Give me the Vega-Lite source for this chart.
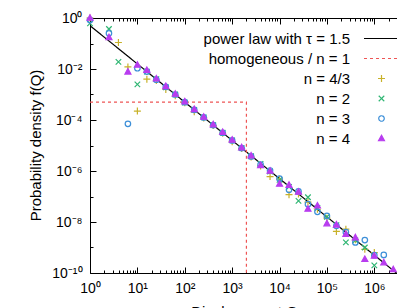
{
  "$schema": "https://vega.github.io/schema/vega-lite/v6.json",
  "width": 308,
  "height": 255,
  "autosize": "none",
  "padding": {"left": 90, "top": 18, "right": 0, "bottom": 35},
  "config": {
    "view": {"stroke": null},
    "font": "Liberation Sans",
    "axis": {"domainColor": "black", "tickColor": "black", "labelColor": "black", "titleColor": "black", "grid": false, "labelFont": "Liberation Sans", "titleFont": "Liberation Sans", "labelFontSize": 14, "titleFontSize": 15, "titleFontWeight": "normal", "domainWidth": 1, "tickWidth": 1}
  },
  "datasets": {
    "lines": [
      {"series": "power law with τ = 1.5", "Q": 1, "f": 0.5, "k": 1},
      {"series": "power law with τ = 1.5", "Q": 3162278, "f": 8.9e-11, "k": 2},
      {"series": "homogeneous / n = 1", "Q": 1, "f": 5e-4, "k": 1},
      {"series": "homogeneous / n = 1", "Q": 2000, "f": 5e-4, "k": 2},
      {"series": "homogeneous / n = 1", "Q": 2000, "f": 1e-10, "k": 3}
    ],
    "points": [
      {"series": "n = 4/3", "Q": 1, "f": 1},
      {"series": "n = 4/3", "Q": 3.981, "f": 0.1096},
      {"series": "n = 4/3", "Q": 6.31, "f": 0.01202},
      {"series": "n = 4/3", "Q": 10, "f": 2.239e-4},
      {"series": "n = 4/3", "Q": 15.85, "f": 3.981e-3},
      {"series": "n = 4/3", "Q": 25.12, "f": 3.548e-3},
      {"series": "n = 4/3", "Q": 39.81, "f": 1.585e-3},
      {"series": "n = 4/3", "Q": 63.1, "f": 8.913e-4},
      {"series": "n = 4/3", "Q": 100, "f": 4.786e-4},
      {"series": "n = 4/3", "Q": 158.5, "f": 2.089e-4},
      {"series": "n = 4/3", "Q": 251.2, "f": 1.202e-4},
      {"series": "n = 4/3", "Q": 398.1, "f": 6.026e-5},
      {"series": "n = 4/3", "Q": 631, "f": 3.02e-5},
      {"series": "n = 4/3", "Q": 1000, "f": 1.413e-5},
      {"series": "n = 4/3", "Q": 1585, "f": 7.586e-6},
      {"series": "n = 4/3", "Q": 2512, "f": 3.548e-6},
      {"series": "n = 4/3", "Q": 3981, "f": 1.585e-6},
      {"series": "n = 4/3", "Q": 6310, "f": 6.026e-7},
      {"series": "n = 4/3", "Q": 10000, "f": 4.786e-7},
      {"series": "n = 4/3", "Q": 15849, "f": 1.175e-7},
      {"series": "n = 4/3", "Q": 25119, "f": 1.259e-7},
      {"series": "n = 4/3", "Q": 39811, "f": 6.026e-8},
      {"series": "n = 4/3", "Q": 63096, "f": 3.162e-8},
      {"series": "n = 4/3", "Q": 100000, "f": 1.413e-8},
      {"series": "n = 4/3", "Q": 158489, "f": 4.266e-9},
      {"series": "n = 4/3", "Q": 251189, "f": 5.248e-9},
      {"series": "n = 4/3", "Q": 398107, "f": 1.995e-9},
      {"series": "n = 4/3", "Q": 630957, "f": 8.511e-10},
      {"series": "n = 4/3", "Q": 1000000, "f": 6.31e-10},
      {"series": "n = 2", "Q": 1, "f": 0.6166},
      {"series": "n = 2", "Q": 2.512, "f": 0.3715},
      {"series": "n = 2", "Q": 3.981, "f": 0.01905},
      {"series": "n = 2", "Q": 10, "f": 2.512e-3},
      {"series": "n = 2", "Q": 15.85, "f": 7.943e-3},
      {"series": "n = 2", "Q": 25.12, "f": 3.981e-3},
      {"series": "n = 2", "Q": 39.81, "f": 1.905e-3},
      {"series": "n = 2", "Q": 63.1, "f": 1.0e-3},
      {"series": "n = 2", "Q": 100, "f": 4.786e-4},
      {"series": "n = 2", "Q": 158.5, "f": 2.512e-4},
      {"series": "n = 2", "Q": 251.2, "f": 1.259e-4},
      {"series": "n = 2", "Q": 398.1, "f": 6.31e-5},
      {"series": "n = 2", "Q": 631, "f": 3.162e-5},
      {"series": "n = 2", "Q": 1000, "f": 1.585e-5},
      {"series": "n = 2", "Q": 1585, "f": 7.943e-6},
      {"series": "n = 2", "Q": 2512, "f": 3.802e-6},
      {"series": "n = 2", "Q": 3981, "f": 1.905e-6},
      {"series": "n = 2", "Q": 6310, "f": 9.55e-7},
      {"series": "n = 2", "Q": 10000, "f": 4.467e-7},
      {"series": "n = 2", "Q": 15849, "f": 2.399e-7},
      {"series": "n = 2", "Q": 25119, "f": 6.761e-8},
      {"series": "n = 2", "Q": 39811, "f": 9.333e-8},
      {"series": "n = 2", "Q": 63096, "f": 3.548e-8},
      {"series": "n = 2", "Q": 100000, "f": 1.585e-8},
      {"series": "n = 2", "Q": 158489, "f": 7.586e-9},
      {"series": "n = 2", "Q": 251189, "f": 1.585e-9},
      {"series": "n = 2", "Q": 398107, "f": 1.905e-9},
      {"series": "n = 2", "Q": 630957, "f": 1.0e-9},
      {"series": "n = 2", "Q": 1000000, "f": 1.995e-10},
      {"series": "n = 3", "Q": 1, "f": 0.8318},
      {"series": "n = 3", "Q": 2.512, "f": 0.2512},
      {"series": "n = 3", "Q": 6.31, "f": 7.079e-5},
      {"series": "n = 3", "Q": 10, "f": 0.01072},
      {"series": "n = 3", "Q": 15.85, "f": 7.943e-3},
      {"series": "n = 3", "Q": 25.12, "f": 3.802e-3},
      {"series": "n = 3", "Q": 39.81, "f": 1.995e-3},
      {"series": "n = 3", "Q": 63.1, "f": 1.0e-3},
      {"series": "n = 3", "Q": 100, "f": 5.012e-4},
      {"series": "n = 3", "Q": 158.5, "f": 2.512e-4},
      {"series": "n = 3", "Q": 251.2, "f": 1.259e-4},
      {"series": "n = 3", "Q": 398.1, "f": 6.31e-5},
      {"series": "n = 3", "Q": 631, "f": 3.162e-5},
      {"series": "n = 3", "Q": 1000, "f": 1.585e-5},
      {"series": "n = 3", "Q": 1585, "f": 7.943e-6},
      {"series": "n = 3", "Q": 2512, "f": 3.715e-6},
      {"series": "n = 3", "Q": 3981, "f": 1.778e-6},
      {"series": "n = 3", "Q": 6310, "f": 1.047e-6},
      {"series": "n = 3", "Q": 10000, "f": 5.012e-7},
      {"series": "n = 3", "Q": 15849, "f": 1.82e-7},
      {"series": "n = 3", "Q": 25119, "f": 1.585e-7},
      {"series": "n = 3", "Q": 39811, "f": 5.012e-8},
      {"series": "n = 3", "Q": 63096, "f": 2.512e-8},
      {"series": "n = 3", "Q": 100000, "f": 1.738e-8},
      {"series": "n = 3", "Q": 158489, "f": 7.079e-9},
      {"series": "n = 3", "Q": 251189, "f": 3.981e-9},
      {"series": "n = 3", "Q": 398107, "f": 1.585e-9},
      {"series": "n = 3", "Q": 630957, "f": 1.95e-9},
      {"series": "n = 3", "Q": 1000000, "f": 5.012e-10},
      {"series": "n = 3", "Q": 1584893, "f": 5.129e-10},
      {"series": "n = 4", "Q": 1, "f": 1},
      {"series": "n = 4", "Q": 2.512, "f": 0.1738},
      {"series": "n = 4", "Q": 6.31, "f": 7.762e-3},
      {"series": "n = 4", "Q": 10, "f": 0.01445},
      {"series": "n = 4", "Q": 15.85, "f": 8.913e-3},
      {"series": "n = 4", "Q": 25.12, "f": 4.169e-3},
      {"series": "n = 4", "Q": 39.81, "f": 2.089e-3},
      {"series": "n = 4", "Q": 63.1, "f": 1.047e-3},
      {"series": "n = 4", "Q": 100, "f": 5.248e-4},
      {"series": "n = 4", "Q": 158.5, "f": 2.63e-4},
      {"series": "n = 4", "Q": 251.2, "f": 1.318e-4},
      {"series": "n = 4", "Q": 398.1, "f": 6.607e-5},
      {"series": "n = 4", "Q": 631, "f": 3.311e-5},
      {"series": "n = 4", "Q": 1000, "f": 1.66e-5},
      {"series": "n = 4", "Q": 1585, "f": 8.318e-6},
      {"series": "n = 4", "Q": 2512, "f": 3.981e-6},
      {"series": "n = 4", "Q": 3981, "f": 1.66e-6},
      {"series": "n = 4", "Q": 6310, "f": 1.0e-6},
      {"series": "n = 4", "Q": 10000, "f": 3.09e-7},
      {"series": "n = 4", "Q": 15849, "f": 2.818e-7},
      {"series": "n = 4", "Q": 25119, "f": 1.514e-7},
      {"series": "n = 4", "Q": 39811, "f": 3.236e-8},
      {"series": "n = 4", "Q": 63096, "f": 4.365e-8},
      {"series": "n = 4", "Q": 100000, "f": 8.71e-9},
      {"series": "n = 4", "Q": 158489, "f": 7.762e-9},
      {"series": "n = 4", "Q": 251189, "f": 3.311e-9},
      {"series": "n = 4", "Q": 398107, "f": 2.455e-9},
      {"series": "n = 4", "Q": 630957, "f": 3.467e-10},
      {"series": "n = 4", "Q": 1000000, "f": 4.677e-10},
      {"series": "n = 4", "Q": 1584893, "f": 2.57e-10},
      {"series": "n = 4", "Q": 2511886, "f": 1.38e-10}
    ]
  },
  "layer": [
    {
      "data": {"name": "lines"},
      "mark": {"type": "line", "clip": true, "strokeWidth": 1.2},
      "encoding": {
        "x": {
          "field": "Q", "type": "quantitative",
          "scale": {"type": "log", "domain": [1, 3162278], "nice": false},
          "axis": {
            "orient": "bottom",
            "title": "Displacement Q",
            "titlePadding": 6,
            "values": [1,2,3,4,5,6,7,8,9,10,20,30,40,50,60,70,80,90,100,200,300,400,500,600,700,800,900,1000,2000,3000,4000,5000,6000,7000,8000,9000,10000,20000,30000,40000,50000,60000,70000,80000,90000,100000,200000,300000,400000,500000,600000,700000,800000,900000,1000000,2000000,3000000],
            "tickSize": {"condition": {"test": "abs(log(datum.value)/LN10 - round(log(datum.value)/LN10)) < 0.001", "value": -6}, "value": -3},
            "labelPadding": 14,
            "labelOverlap": false,
            "labelBound": false,
            "labelFlush": false,
            "labelExpr": "abs(log(datum.value)/LN10 - round(log(datum.value)/LN10)) < 0.001 ? '10' + ['⁰','¹','²','³','⁴','⁵','⁶'][round(log(datum.value)/LN10)] : ''"
          }
        },
        "y": {
          "field": "f", "type": "quantitative",
          "scale": {"type": "log", "domain": [1e-10, 1], "nice": false},
          "axis": {
            "orient": "left",
            "title": "Probability density f(Q)",
            "titleX": -47,
            "titleY": 127,
            "titleAngle": -90,
            "titleBaseline": "bottom",
            "titleAlign": "center",
            "values": [1e-10,1e-9,1e-8,1e-7,1e-6,1e-5,1e-4,1e-3,1e-2,1e-1,1],
            "tickSize": {"condition": {"test": "round(log(datum.value)/LN10) % 2 == 0", "value": -6}, "value": -3},
            "labelPadding": 14,
            "labelOverlap": false,
            "labelBound": false,
            "labelFlush": false,
            "labelExpr": "round(log(datum.value)/LN10) % 2 == 0 ? ['10⁰','10⁻²','10⁻⁴','10⁻⁶','10⁻⁸','10⁻¹⁰'][round(-log(datum.value)/LN10/2)] : ''"
          }
        },
        "color": {
          "field": "series", "type": "nominal",
          "scale": {
            "domain": ["power law with τ = 1.5", "homogeneous / n = 1", "n = 4/3", "n = 2", "n = 3", "n = 4"],
            "range": ["#000000", "#ee5555", "#c8b22a", "#2fb673", "#3d8fd8", "#b83cef"]
          },
          "legend": {
            "title": null,
            "orient": "none",
            "legendX": 284,
            "legendY": 13,
            "padding": 0,
            "labelFont": "Liberation Sans",
            "labelFontSize": 15,
            "labelColor": "black",
            "labelAlign": "right",
            "labelOffset": -39,
            "labelLimit": 300,
            "rowPadding": 4,
            "symbolSize": 100,
            "symbolStrokeWidth": 1.2,
            "encode": {
              "symbols": {
                "update": {
                  "shape": {"signal": "datum.value == 'n = 4/3' ? 'M-0.7,0H0.7M0,-0.7V0.7' : datum.value == 'n = 2' ? 'M-0.55,-0.55L0.55,0.55M-0.55,0.55L0.55,-0.55' : datum.value == 'n = 3' ? 'M0.55,0A0.55,0.55,0,1,1,-0.55,0A0.55,0.55,0,1,1,0.55,0Z' : datum.value == 'n = 4' ? 'M0,-0.65L0.6,0.45L-0.6,0.45Z' : 'M-3.5,0H3.5'"},
                  "strokeDash": {"signal": "datum.value == 'homogeneous / n = 1' ? [3,3] : [1,0]"},
                  "fill": {"signal": "datum.value == 'n = 4' ? '#b83cef' : 'transparent'"},
                  "strokeWidth": {"value": 1.2},
                  "opacity": {"value": 1}
                }
              }
            }
          }
        },
        "strokeDash": {"condition": {"test": "datum.series == 'homogeneous / n = 1'", "value": [3, 3]}, "value": [1, 0]},
        "order": {"field": "k", "type": "quantitative"}
      }
    },
    {
      "data": {"name": "points"},
      "mark": {"type": "point", "filled": false, "size": 100, "strokeWidth": 1.2, "opacity": 1},
      "encoding": {
        "x": {
          "field": "Q", "type": "quantitative",
          "scale": {"type": "log", "domain": [1, 3162278], "nice": false},
          "axis": {
            "orient": "top",
            "title": null,
            "labels": false,
            "values": [1,2,3,4,5,6,7,8,9,10,20,30,40,50,60,70,80,90,100,200,300,400,500,600,700,800,900,1000,2000,3000,4000,5000,6000,7000,8000,9000,10000,20000,30000,40000,50000,60000,70000,80000,90000,100000,200000,300000,400000,500000,600000,700000,800000,900000,1000000,2000000,3000000],
            "tickSize": {"condition": {"test": "abs(log(datum.value)/LN10 - round(log(datum.value)/LN10)) < 0.001", "value": -6}, "value": -3}
          }
        },
        "y": {"field": "f", "type": "quantitative", "scale": {"type": "log", "domain": [1e-10, 1], "nice": false}},
        "color": {"field": "series", "type": "nominal"},
        "shape": {
          "field": "series", "type": "nominal",
          "scale": {
            "domain": ["n = 4/3", "n = 2", "n = 3", "n = 4"],
            "range": ["M-0.7,0H0.7M0,-0.7V0.7", "M-0.55,-0.55L0.55,0.55M-0.55,0.55L0.55,-0.55", "M0.55,0A0.55,0.55,0,1,1,-0.55,0A0.55,0.55,0,1,1,0.55,0Z", "M0,-0.65L0.6,0.45L-0.6,0.45Z"]
          },
          "legend": null
        },
        "fill": {"condition": {"test": "datum.series == 'n = 4'", "value": "#b83cef"}, "value": "transparent"}
      }
    }
  ],
  "resolve": {"axis": {"x": "independent"}}
}
